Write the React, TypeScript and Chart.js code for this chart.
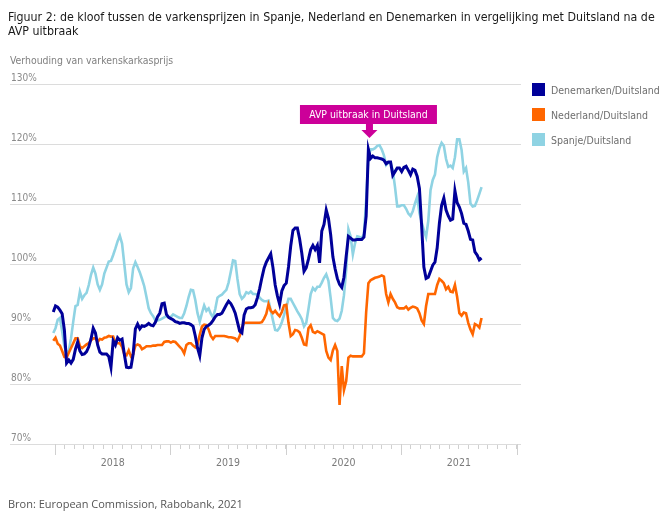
import React, { useEffect, useRef } from "react";
import { Chart, registerables } from "chart.js";

Chart.register(...registerables);

// ---- data (weekly ratios, % of German carcass price) ----
const FIRST_WEEK = -0.18; // months since Jan 2018 of first weekly observation
const WEEK = 12 / 52; // one week, in months

const denemarken = [
  92, 93, 92.8, 92.3, 91.7, 89, 83.5, 84, 83.5, 84.1,
  85.8, 87, 85.5, 84.9, 85, 85.4, 86.2, 87.5, 89.3, 88.5,
  86.5, 85.3, 85, 85, 85, 84.6, 82.8, 87.2, 86.5, 87.7,
  87.3, 87.5, 85, 82.8, 82.7, 82.8, 85, 89.2, 90, 89.2,
  89.7, 89.6, 89.8, 90.1, 89.8, 89.7, 90.3, 91.2, 91.8, 93.4,
  93.5, 91.6, 91.1, 90.9, 90.7, 90.4, 90.3, 90.1, 90.2, 90.2,
  90.1, 90.1, 89.9, 89.6, 88, 86, 84.7, 87.7, 89.1, 89.6,
  89.8, 90.1, 90.6, 91.2, 91.6, 91.6, 91.8, 92.5, 93.2, 93.8,
  93.4, 92.7, 91.8, 90.3, 88.8, 88.5, 91.5, 92.5, 92.7, 92.7,
  92.8, 93.2, 94.4, 95.9, 97.7, 99.3, 100.3, 101, 101.7, 99.4,
  96.5, 94.7, 93.3, 95.5, 96.4, 96.8, 99.5, 103, 105.6, 106,
  106, 104.2, 101.8, 98.8, 99.4, 100.8, 102.4, 103.1, 102.4, 103.1,
  100.2, 105.5, 106.6, 109, 107.6, 104.9, 101.2, 99.2, 97.6, 96.6,
  96.1, 97.8, 101.3, 104.6, 104.3, 104, 104, 104.1, 104.1, 104.1,
  104.5, 108, 119.1, 117.6, 118, 117.7, 117.7, 117.6, 117.5, 117.3,
  116.7, 117, 117, 114.8, 115.4, 116, 116, 115.4, 116.1, 116.3,
  115.6, 114.9, 115.8, 115.6, 114.6, 112.6, 106.3, 99.5, 97.6, 97.8,
  98.8, 99.8, 100.3, 102.7, 106.8, 109.8, 111, 109, 108, 107.3,
  107.5, 112.2, 110.2, 109.5, 108.4, 106.8, 106.6, 105.5, 104.1, 104,
  102, 101.5, 100.7, 101,
];

const nederland = [
  87.2, 87.7, 86.7, 86.4, 85.5, 84.5, 84.4, 85.2, 86, 86.8,
  87.6, 87.6, 86.3, 86, 86.3, 86.6, 86.8, 87.3, 87.6, 87.6,
  87, 87.5, 87.4, 87.7, 87.8, 88, 87.9, 87.9, 86.8, 86.8,
  86.8, 86.2, 85, 84.8, 85.6, 84.6, 85, 86.4, 86.6, 86.4,
  85.8, 86, 86.3, 86.3, 86.3, 86.4, 86.4, 86.5, 86.5, 86.5,
  87, 87.1, 87.1, 86.9, 87.1, 87, 86.6, 86.2, 85.8, 85.1,
  86.5, 86.8, 86.8, 86.4, 86.1, 86.6, 88.2, 89.6, 89.9, 89.8,
  89.1, 88, 87.5, 88, 88, 88, 88, 88, 87.9, 87.8,
  87.8, 87.7, 87.6, 87.2, 88, 89.4, 90.2, 90.2, 90.2, 90.2,
  90.2, 90.2, 90.2, 90.2, 90.3, 90.9, 91.7, 93.3, 92.2, 91.8,
  92.2, 91.7, 91.3, 92, 93.1, 93.2, 90.2, 88, 88.3, 89,
  88.9, 88.6, 87.7, 86.6, 86.5, 89.3, 89.8, 88.7, 88.5, 88.8,
  88.6, 88.4, 88.2, 85.5, 84.4, 84, 85.6, 86.5, 85.5, 76.5,
  83, 79, 80.5, 84.4, 84.7, 84.6, 84.6, 84.6, 84.6, 84.6,
  85.1, 92, 96.8, 97.3, 97.5, 97.7, 97.8, 97.9, 98.1, 97.9,
  95, 93.6, 95, 94.2, 93.6, 92.8, 92.6, 92.6, 92.6, 92.9,
  92.4, 92.7, 92.9, 92.8, 92.6, 91.8, 90.6, 90, 93, 95,
  95, 95, 95, 96.5, 97.5, 97.2, 96.8, 95.8, 96.2, 95.4,
  95.3, 96.5, 94.5, 91.8, 91.4, 91.9, 91.8, 90.2, 89.1, 88.3,
  90, 89.8, 89.4, 91,
];

const spanje = [
  88.5, 89.3, 90.7, 91, 88.8, 86.3, 85.2, 85.6, 87.6, 90.4,
  93, 93.2, 95.4, 94.2, 94.8, 95.2, 96.5, 98.2, 99.4, 98.4,
  96.6, 95.7, 96.6, 98.4, 99.4, 100.4, 100.5, 101.5, 102.6, 103.8,
  104.7, 103.4, 100, 96.6, 95.3, 96, 99.3, 100.3, 99.5, 98.6,
  97.5, 96.3, 94.5, 92.6, 91.8, 91.3, 90.6, 90.6, 90.7, 90.9,
  91.1, 91.3, 91.1, 91.2, 91.6, 91.4, 91.2, 91, 91, 91.8,
  93, 94.5, 95.7, 95.6, 94, 91.8, 90.4, 91.8, 93.1, 92.2,
  92.6, 91.7, 91.1, 92.5, 94.4, 94.7, 94.9, 95.3, 95.7, 96.9,
  98.7, 100.6, 100.5, 97.5, 95, 94.2, 94.6, 95.3, 95.1, 95.4,
  95, 95, 94.9, 94.4, 94, 93.8, 93.8, 93.9, 92.3, 90.6,
  89, 88.9, 89.4, 90.3, 91.5, 92.8, 94.2, 94.2, 93.5, 92.8,
  92.1, 91.5, 90.8, 89.6, 90.2, 92.5, 95, 96, 95.6, 96.2,
  96.2, 96.9, 97.7, 98.3, 97.2, 94.3, 91, 90.6, 90.5, 90.9,
  92.2, 94.8, 99, 105.8, 104.6, 101.6, 103.5, 104.6, 104.5, 104.3,
  105, 110.6, 117.8, 119.1, 119.1, 119.3, 119.7, 119.8, 119.1, 118.1,
  116.5, 116.9, 116.9, 115.6, 112.8, 109.6, 109.6, 109.8, 109.8, 109.2,
  108.4, 108, 108.8, 110.1, 111.2, 108.5, 107, 105.6, 104.5, 107.2,
  112.3, 114, 114.9, 117.8, 119.3, 120.2, 119.7, 117.5, 116.2, 116.4,
  116, 117.8, 120.8, 120.8, 119, 115.4, 116, 113.6, 110.1, 109.6,
  109.7, 110.6, 111.7, 112.8,
];

const seriesNames = ["Denemarken/Duitsland", "Nederland/Duitsland", "Spanje/Duitsland"];
const seriesColors = ["#000099", "#ff6600", "#8fd3e3"];
const years = ["2018", "2019", "2020", "2021"];
const monthTicks = Array.from({ length: 49 }, (_, m) => m); // Jan 2018 .. Jan 2022
const X_MIN = -4.68;
const X_MAX = 48.46;
const Y_MIN = 70;
const Y_MAX = 130;
const Y_STEP = 10;
const ASF_MONTH = 32.7; // AVP outbreak in Germany, Sept 2020
const ASF_LABEL = "AVP uitbraak in Duitsland";

const TITLE_LINE1 =
  "Figuur 2: de kloof tussen de varkensprijzen in Spanje, Nederland en Denemarken in vergelijking met Duitsland na de";
const TITLE_LINE2 = "AVP uitbraak";
const Y_TITLE = "Verhouding van varkenskarkasprijs";
const SOURCE = "Bron: European Commission, Rabobank, 2021";

const FONT = '"DejaVu Sans Condensed", "Liberation Sans", sans-serif';

export default function App() {
  const ref = useRef<HTMLCanvasElement | null>(null);

  useEffect(() => {
    const canvas = ref.current;
    if (!canvas) return;
    const toPoints = (arr: number[]) => arr.map((v, i) => ({ x: FIRST_WEEK + i * WEEK, y: v }));
    const series = [denemarken, nederland, spanje];

    const extras = {
      id: "extras",
      afterDraw(chart: any) {
        const { ctx, chartArea, scales } = chart;
        const xs = scales.x;
        ctx.save();
        // longer year ticks
        ctx.strokeStyle = "#d0d0d0";
        ctx.lineWidth = 1;
        monthTicks.forEach((m) => {
          if (m % 12 !== 0) return;
          const px = Math.round(xs.getPixelForValue(m)) + 0.5;
          ctx.beginPath();
          ctx.moveTo(px, chartArea.bottom);
          ctx.lineTo(px, chartArea.bottom + 11);
          ctx.stroke();
        });
        // annotation box + arrow
        const ax = xs.getPixelForValue(ASF_MONTH);
        const boxW = 137;
        const boxH = 19;
        const boxTop = chartArea.top + 21;
        ctx.fillStyle = "#cc0099";
        ctx.fillRect(ax - boxW / 2 - 1, boxTop, boxW, boxH);
        const stemTop = boxTop + boxH;
        ctx.fillRect(ax - 3.5, stemTop, 7, 6);
        ctx.beginPath();
        ctx.moveTo(ax - 8, stemTop + 6);
        ctx.lineTo(ax + 8, stemTop + 6);
        ctx.lineTo(ax, stemTop + 14);
        ctx.closePath();
        ctx.fill();
        ctx.fillStyle = "#ffffff";
        ctx.font = `10.4px ${FONT}`;
        ctx.textAlign = "center";
        ctx.textBaseline = "middle";
        ctx.fillText(ASF_LABEL, ax - 1, boxTop + boxH / 2 + 0.5);
        ctx.restore();
      },
    };

    const chart = new Chart(canvas, {
      type: "line",
      data: {
        datasets: series.map((arr, k) => ({
          label: seriesNames[k],
          data: toPoints(arr),
          borderColor: seriesColors[k],
          backgroundColor: seriesColors[k],
          borderWidth: k === 0 ? 3 : 2.6,
          pointRadius: 0,
          tension: 0,
          fill: false,
        })),
      },
      options: {
        animation: false,
        responsive: false,
        events: [],
        layout: { padding: { left: 10, top: 84, right: 148, bottom: 41 } },
        plugins: { legend: { display: false }, tooltip: { enabled: false }, title: { display: false } },
        scales: {
          x: {
            type: "linear",
            min: X_MIN,
            max: X_MAX,
            afterBuildTicks: (scale: any) => {
              scale.ticks = monthTicks.map((m) => ({ value: m }));
            },
            afterFit: (scale: any) => {
              scale.height = 40;
            },
            grid: {
              drawOnChartArea: false,
              drawTicks: true,
              tickLength: 5,
              tickColor: "#d0d0d0",
              color: "#d0d0d0",
            },
            border: { display: false },
            ticks: {
              autoSkip: false,
              maxRotation: 0,
              minRotation: 0,
              padding: 8,
              color: "#7a7a7a",
              font: { family: FONT, size: 10.5 },
              callback: (v: any) => {
                const m = Number(v);
                return m % 12 === 6 ? years[(m - 6) / 12] : "";
              },
            },
          },
          y: {
            min: Y_MIN,
            max: Y_MAX,
            afterFit: (scale: any) => {
              scale.width = 0;
            },
            grid: { color: "#dcdcdc", lineWidth: 1, drawTicks: false },
            border: { display: false },
            ticks: {
              stepSize: Y_STEP,
              mirror: true,
              padding: 1,
              labelOffset: -6,
              color: "#8a8a8a",
              font: { family: FONT, size: 10 },
              callback: (v: any) => `${v}%`,
            },
          },
        },
      },
      plugins: [extras],
    });
    return () => chart.destroy();
  }, []);

  return (
    <div style={{ position: "fixed", left: 0, top: 0, width: 669, height: 525, background: "#fff", overflow: "hidden" }}>
      <canvas ref={ref} width={669} height={525} style={{ position: "absolute", left: 0, top: 0 }} />
      <div
        style={{
          position: "absolute",
          left: 8,
          top: 10,
          fontFamily: FONT,
          fontSize: 12.3,
          lineHeight: "14px",
          color: "#1a1a1a",
          whiteSpace: "nowrap",
        }}
      >
        {TITLE_LINE1}
        <br />
        {TITLE_LINE2}
      </div>
      <div style={{ position: "absolute", left: 10, top: 54, fontFamily: FONT, fontSize: 10.4, color: "#808080", whiteSpace: "nowrap" }}>
        {Y_TITLE}
      </div>
      <div style={{ position: "absolute", left: 532, top: 83 }}>
        {seriesNames.map((n, k) => (
          <div key={n} style={{ display: "flex", alignItems: "center", height: 13, marginBottom: 12 }}>
            <span style={{ width: 13, height: 13, background: seriesColors[k], display: "inline-block", marginRight: 6, flex: "none" }} />
            <span style={{ fontFamily: FONT, fontSize: 10.5, color: "#6e6e6e", whiteSpace: "nowrap" }}>{n}</span>
          </div>
        ))}
      </div>
      <div style={{ position: "absolute", left: 8, top: 496, fontFamily: '"Open Sans", sans-serif', fontSize: 11, color: "#555", whiteSpace: "nowrap" }}>
        {SOURCE}
      </div>
    </div>
  );
}
